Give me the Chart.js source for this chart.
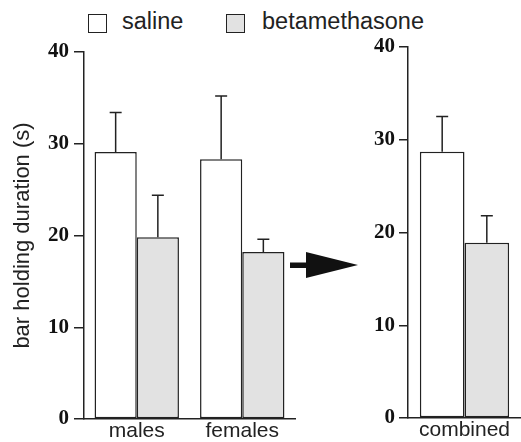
<!DOCTYPE html>
<html>
<head>
<meta charset="utf-8">
<script src="https://cdn.jsdelivr.net/npm/chart.js@4.4.0/dist/chart.umd.min.js"></script>
<style>
  html, body { margin: 0; padding: 0; background: #fff; overflow: hidden; }
  #wrap { position: relative; width: 521px; height: 442px; }
  canvas { position: absolute; top: 0; }
  .box { position: absolute; top: 14px; width: 17px; height: 17px; border: 1.5px solid #222; }
  .lbl { position: absolute; top: 8px; font: 23.5px "Liberation Sans", Arial, sans-serif; color: #222; }
  svg { position: absolute; left: 0; top: 0; }
</style>
</head>
<body>
<div id="wrap">
  <div class="box" style="left:88px; background:#fff;"></div>
  <div class="lbl" style="left:122px;">saline</div>
  <div class="box" style="left:226px; background:#e2e2e2;"></div>
  <div class="lbl" style="left:262px;">betamethasone</div>
  <canvas id="left" width="300" height="442" style="left:0"></canvas>
  <canvas id="right" width="221" height="442" style="left:300px"></canvas>
  <svg width="521" height="442">
    <polygon points="290,262.5 306,262.5 306,252 358,265 306,278 306,268 290,268" fill="#111" />
  </svg>
</div>
<script>
// by sex
const sexos = ["males", "females"];
const salina = [29.1, 28.3];
const salinaErr = [4.3, 6.9];
const beta = [19.8, 18.2];
const betaErr = [4.6, 1.4];

// combined
const combinado = ["combined"];
const salinaComb = [28.7];
const salinaCombErr = [3.8];
const betaComb = [18.9];
const betaCombErr = [2.9];

const yTicks = [0, 10, 20, 30, 40];

const corSalina = "#ffffff";
const corBeta = "#e2e2e2";

// desenha as barras de erro (so pra cima)
const errorBars = {
  id: "errorBars",
  afterDatasetsDraw(chart) {
    const c = chart.ctx;
    const y = chart.scales.y;
    chart.data.datasets.forEach((ds, i) => {
      chart.getDatasetMeta(i).data.forEach((bar, j) => {
        const topo = y.getPixelForValue(ds.data[j] + ds.err[j]);
        c.save();
        c.strokeStyle = "#222";
        c.lineWidth = 1.5;
        c.beginPath();
        c.moveTo(bar.x, bar.y);
        c.lineTo(bar.x, topo);
        c.moveTo(bar.x - 6, topo);
        c.lineTo(bar.x + 6, topo);
        c.stroke();
        c.restore();
      });
    });
  },
};

function eixoY(largura, tickLen, pad, titulo) {
  return {
    min: 0,
    max: 40,
    afterBuildTicks: (s) => { s.ticks = yTicks.map((v) => ({ value: v })); },
    afterFit: (s) => { s.width = largura; },
    ticks: {
      color: "#111",
      padding: pad,
      font: { family: "'Liberation Serif', 'Times New Roman', serif", size: 21, weight: "bold" },
    },
    grid: { drawOnChartArea: false, drawTicks: true, tickLength: tickLen, color: "#222", lineWidth: 1.5 },
    border: { display: true, color: "#222", width: 1.5 },
    title: titulo
      ? {
          display: true,
          text: titulo,
          color: "#222",
          padding: { top: 10, bottom: 0 },
          font: { family: "'Liberation Sans', Arial, sans-serif", size: 22 },
        }
      : { display: false },
  };
}

function eixoX() {
  return {
    afterFit: (s) => { s.height = 23; },
    ticks: {
      color: "#222",
      padding: 0,
      font: { family: "'Liberation Sans', Arial, sans-serif", size: 21 },
    },
    grid: { display: false, drawTicks: false },
    border: { display: true, color: "#222", width: 1.5 },
  };
}

const barra = { borderColor: "#222", borderWidth: 1.5, borderSkipped: false };

let graficoEsq = new Chart(document.getElementById("left"), {
  type: "bar",
  data: {
    labels: sexos,
    datasets: [
      { label: "saline", data: salina, err: salinaErr, backgroundColor: corSalina, ...barra },
      { label: "betamethasone", data: beta, err: betaErr, backgroundColor: corBeta, ...barra },
    ],
  },
  options: {
    responsive: false,
    devicePixelRatio: 1,
    animation: false,
    categoryPercentage: 0.8,
    barPercentage: 1.0,
    layout: { padding: { top: 52, right: 5, left: 0, bottom: 0 } },
    plugins: { legend: { display: false }, tooltip: { enabled: false } },
    scales: { x: eixoX(), y: eixoY(84, 10, 5, "bar holding duration (s)") },
  },
  plugins: [errorBars],
});

let graficoDir = new Chart(document.getElementById("right"), {
  type: "bar",
  data: {
    labels: combinado,
    datasets: [
      { label: "saline", data: salinaComb, err: salinaCombErr, backgroundColor: corSalina, ...barra },
      { label: "betamethasone", data: betaComb, err: betaCombErr, backgroundColor: corBeta, ...barra },
    ],
  },
  options: {
    responsive: false,
    devicePixelRatio: 1,
    animation: false,
    categoryPercentage: 0.79,
    barPercentage: 1.0,
    layout: { padding: { top: 47, right: 0, left: 0, bottom: 1 } },
    plugins: { legend: { display: false }, tooltip: { enabled: false } },
    scales: { x: eixoX(), y: eixoY(108, 9, 4, null) },
  },
  plugins: [errorBars],
});
</script>
</body>
</html>
